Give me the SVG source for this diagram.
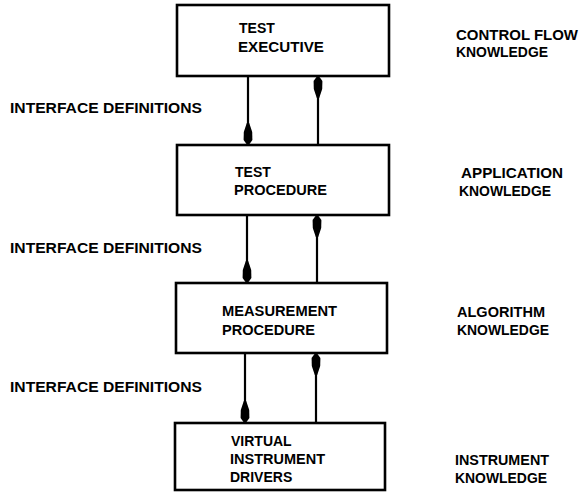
<svg xmlns="http://www.w3.org/2000/svg" width="583" height="493" viewBox="0 0 583 493">
  <style>
    .box { fill: #ffffff; stroke: #000000; stroke-width: 2.6; }
    .lbl { font-family: "Liberation Sans", Arial, sans-serif; font-weight: bold; font-size: 14px; fill: #000000; }
    .wire { stroke: #000000; stroke-width: 2.2; fill: none; }
  </style>
  <defs>
    <marker id="head" viewBox="0 -5 23 10" refX="22" refY="0" markerWidth="23" markerHeight="10" markerUnits="userSpaceOnUse" orient="auto">
      <path d="M0,-1.2 L9,-4.2 L17,-4.4 L22,-0.8 L22,0.8 L17,4.4 L9,4.2 L0,1.2 Z" fill="#000000"/>
    </marker>
  </defs>
  <rect width="583" height="493" fill="#ffffff"/>

  <g id="connectors">
    <line class="wire" x1="248" y1="76" x2="248" y2="145" marker-end="url(#head)"/>
    <line class="wire" x1="318" y1="145" x2="318" y2="76" marker-end="url(#head)"/>
    <line class="wire" x1="247" y1="215" x2="247" y2="283" marker-end="url(#head)"/>
    <line class="wire" x1="317" y1="283" x2="317" y2="215" marker-end="url(#head)"/>
    <line class="wire" x1="245" y1="353" x2="245" y2="423" marker-end="url(#head)"/>
    <line class="wire" x1="316" y1="423" x2="316" y2="353" marker-end="url(#head)"/>
  </g>

  <g id="test-executive">
    <rect class="box" x="177" y="5" width="212" height="71"/>
    <text class="lbl" x="239" y="33">TEST</text>
    <text class="lbl" x="238" y="52" textLength="86" lengthAdjust="spacingAndGlyphs">EXECUTIVE</text>
  </g>

  <g id="test-procedure">
    <rect class="box" x="177" y="145" width="212" height="70"/>
    <text class="lbl" x="235" y="177">TEST</text>
    <text class="lbl" x="234" y="195" textLength="93" lengthAdjust="spacingAndGlyphs">PROCEDURE</text>
  </g>

  <g id="measurement-procedure">
    <rect class="box" x="176" y="283" width="211" height="70"/>
    <text class="lbl" x="222" y="316" textLength="115" lengthAdjust="spacingAndGlyphs">MEASUREMENT</text>
    <text class="lbl" x="222" y="335" textLength="93" lengthAdjust="spacingAndGlyphs">PROCEDURE</text>
  </g>

  <g id="virtual-instrument-drivers">
    <rect class="box" x="175" y="423" width="210" height="67"/>
    <text class="lbl" x="231" y="446">VIRTUAL</text>
    <text class="lbl" x="230" y="464" textLength="95" lengthAdjust="spacingAndGlyphs">INSTRUMENT</text>
    <text class="lbl" x="230" y="482">DRIVERS</text>
  </g>

  <g id="interface-labels">
    <text class="lbl" x="10" y="113" textLength="192" lengthAdjust="spacingAndGlyphs">INTERFACE DEFINITIONS</text>
    <text class="lbl" x="10" y="253" textLength="192" lengthAdjust="spacingAndGlyphs">INTERFACE DEFINITIONS</text>
    <text class="lbl" x="10" y="392" textLength="192" lengthAdjust="spacingAndGlyphs">INTERFACE DEFINITIONS</text>
  </g>

  <g id="knowledge-labels">
    <text class="lbl" x="456" y="40" textLength="122" lengthAdjust="spacingAndGlyphs">CONTROL FLOW</text>
    <text class="lbl" x="456" y="57" textLength="92" lengthAdjust="spacingAndGlyphs">KNOWLEDGE</text>
    <text class="lbl" x="461" y="178" textLength="102" lengthAdjust="spacingAndGlyphs">APPLICATION</text>
    <text class="lbl" x="459" y="196" textLength="92" lengthAdjust="spacingAndGlyphs">KNOWLEDGE</text>
    <text class="lbl" x="457" y="317" textLength="88" lengthAdjust="spacingAndGlyphs">ALGORITHM</text>
    <text class="lbl" x="457" y="335" textLength="92" lengthAdjust="spacingAndGlyphs">KNOWLEDGE</text>
    <text class="lbl" x="455" y="465" textLength="94" lengthAdjust="spacingAndGlyphs">INSTRUMENT</text>
    <text class="lbl" x="455" y="483" textLength="92" lengthAdjust="spacingAndGlyphs">KNOWLEDGE</text>
  </g>
</svg>
